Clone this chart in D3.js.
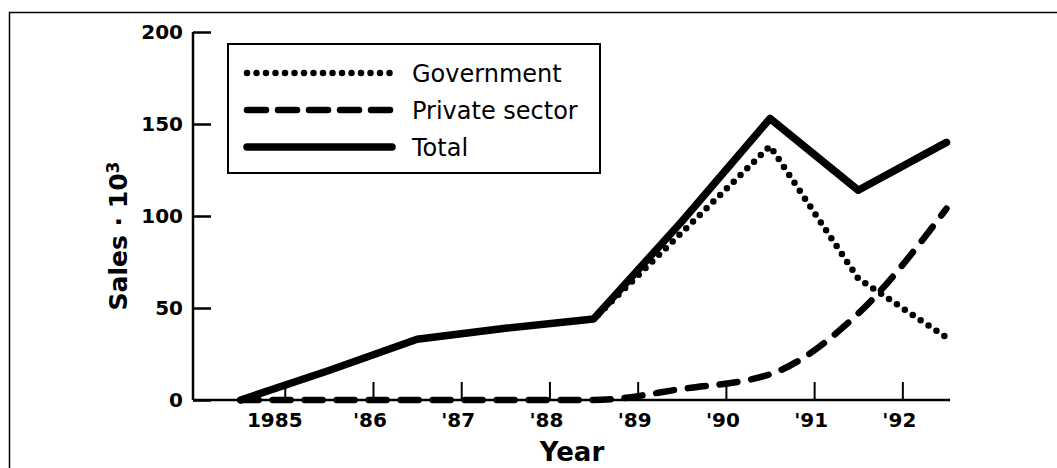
<!DOCTYPE html>
<html>
<head>
<meta charset="utf-8">
<script src="https://cdn.jsdelivr.net/npm/d3@7"></script>
<style>
  body { margin: 0; background: #fff; }
  svg text { font-family: "DejaVu Sans", sans-serif; font-weight: 700; fill: #000; }
</style>
</head>
<body>
<div id="chart"></div>
<script>
// values, one point per mid-year
const years = [1984.5, 1985.5, 1986.5, 1987.5, 1988.5, 1989.5, 1990.5, 1991.5, 1992.5];
const government = [0, 16, 33, 39, 44, 91, 138, 66, 34];
const privateSector = [0, 0, 0, 0, 0, 6, 14, 47, 104];
const total = [0, 16, 33, 39, 44, 97, 153, 114, 140];

const yearTicks = [1985, 1986, 1987, 1988, 1989, 1990, 1991, 1992];
const yTicks = [0, 50, 100, 150, 200];
const legendItems = ["Government", "Private sector", "Total"];

const width = 1057, height = 468;

const svg = d3.select("#chart")
    .append("svg")
    .attr("width", width)
    .attr("height", height);

// outer frame, runs off the right and bottom of the picture
svg.append("rect")
    .attr("x", 9.5).attr("y", 12.5)
    .attr("width", 1100).attr("height", 500)
    .attr("fill", "none").attr("stroke", "#000").attr("stroke-width", 1.5);

const x = d3.scaleLinear().domain([1983.96, 1992.54]).range([193, 950]);
const y = d3.scaleLinear().domain([0, 200]).range([400, 32]);

// y axis, ticks point inward
const yAxis = d3.axisRight(y).tickValues(yTicks).tickSize(18).tickFormat("");
const gy = svg.append("g").attr("transform", `translate(${x.range()[0]},0)`).call(yAxis);
gy.select(".domain").attr("stroke-width", 2.5).attr("d", `M0,${y(200)}V${y(0)}`);
gy.selectAll(".tick line").attr("stroke-width", 2.5);

svg.selectAll(".ylab")
    .data(yTicks)
    .enter()
    .append("text")
    .attr("class", "ylab")
    .attr("x", 183)
    .attr("y", d => y(d))
    .attr("dy", "0.36em")
    .attr("text-anchor", "end")
    .style("font-size", "20px")
    .text(d => d);

// x axis, ticks point upward
const xAxis = d3.axisTop(x).tickValues(yearTicks).tickSize(18).tickFormat("");
const gx = svg.append("g").attr("transform", `translate(0,${y(0)})`).call(xAxis);
gx.select(".domain").attr("stroke-width", 2.5).attr("d", `M${x.range()[0]},0H${x.range()[1]}`);
gx.selectAll(".tick line").attr("stroke-width", 2);

svg.selectAll(".xlab")
    .data(yearTicks)
    .enter()
    .append("text")
    .attr("class", "xlab")
    .attr("x", d => x(d) - (d === 1985 ? 10 : 3))
    .attr("y", 427)
    .attr("text-anchor", "middle")
    .style("font-size", "20px")
    .text(d => d === 1985 ? "1985" : "'" + String(d).slice(2));

svg.append("text")
    .attr("x", 572).attr("y", 461)
    .attr("text-anchor", "middle")
    .style("font-size", "26px")
    .text("Year");

const ylabel = svg.append("text")
    .attr("transform", "translate(127,236) rotate(-90)")
    .attr("text-anchor", "middle")
    .style("font-size", "25px");
ylabel.append("tspan").text("Sales · 10");
ylabel.append("tspan").attr("dy", "-0.45em").style("font-size", "17px").text("3");

// series
const series = [
    { name: "Government", values: government, dash: "0,9.5", width: 6.5, curve: d3.curveLinear },
    { name: "Private sector", values: privateSector, dash: "18,14", width: 6.5, curve: d3.curveMonotoneX },
    { name: "Total", values: total, dash: null, width: 7.5, curve: d3.curveLinear }
];

series.forEach(s => {
    const line = d3.line()
        .x((d, i) => x(years[i]))
        .y(d => y(d))
        .curve(s.curve);
    svg.append("path")
        .datum(s.values)
        .attr("d", line)
        .attr("fill", "none")
        .attr("stroke", "#000")
        .attr("stroke-width", s.width)
        .attr("stroke-linecap", "round")
        .attr("stroke-linejoin", "round")
        .attr("stroke-dasharray", s.dash);
});

// legend
const legend = svg.append("g");
legend.append("rect")
    .attr("x", 228).attr("y", 44)
    .attr("width", 372).attr("height", 129)
    .attr("fill", "#fff").attr("stroke", "#000").attr("stroke-width", 2);

legendItems.forEach((name, i) => {
    const s = series.find(d => d.name === name);
    const ly = 73 + i * 37;
    legend.append("line")
        .attr("x1", 247).attr("x2", 392)
        .attr("y1", ly).attr("y2", ly)
        .attr("stroke", "#000")
        .attr("stroke-width", s.width)
        .attr("stroke-linecap", "round")
        .attr("stroke-dasharray", name === "Private sector" ? "19,12" : s.dash);
    legend.append("text")
        .attr("x", 412).attr("y", ly)
        .attr("dy", "0.36em")
        .style("font-size", "24px")
        .style("font-weight", 400)
        .text(name);
});
</script>
</body>
</html>
